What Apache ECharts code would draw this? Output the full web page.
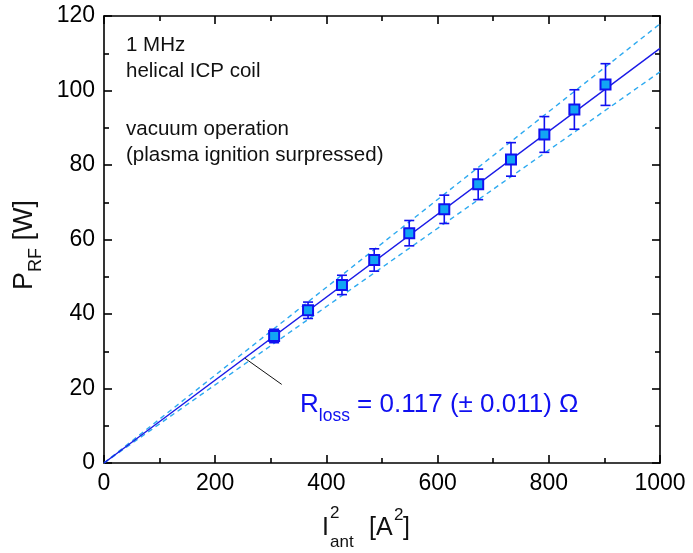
<!DOCTYPE html>
<html><head><meta charset="utf-8">
<script src="https://cdn.jsdelivr.net/npm/echarts@6/dist/echarts.min.js"></script>
<style>html,body{margin:0;padding:0;background:#fff}#c{width:693px;height:553px}</style>
</head><body><div id="c"></div>
<script>
// Data
const xVals = [306, 367, 428, 486, 549, 612, 673, 732, 792, 846, 902];
const yVals = [34.1, 41.0, 47.8, 54.5, 61.7, 68.1, 74.8, 81.5, 88.2, 94.9, 101.6];
const yErr  = [1.8, 2.2, 2.6, 3.0, 3.4, 3.8, 4.1, 4.5, 4.8, 5.3, 5.6];
const fitX = [0, 1000];
const fitY = [0, 111.3];
const upperY = [0, 117.9];
const lowerY = [0, 105.0];
const pointerX = [253.6, 319.6];
const pointerY = [28.1, 21.1];
const xTicks = [0, 200, 400, 600, 800, 1000];
const yTicks = [0, 20, 40, 60, 80, 100, 120];

const FONT = '"Liberation Sans", Arial, sans-serif';
const BLUE = '#1010f0';
const chart = echarts.init(document.getElementById('c'));
const pts = xVals.map((x, i) => [x, yVals[i], yErr[i]]);
const pair = (xs, ys) => xs.map((x, i) => [x, ys[i]]);

const axisCommon = {
  axisLine: {show: true, onZero: false, lineStyle: {color: '#000', width: 1.6}},
  axisTick: {show: true, inside: true, length: 8, lineStyle: {color: '#000', width: 1.6}},
  minorTick: {show: true, splitNumber: 2, length: 5, lineStyle: {color: '#000', width: 1.6}},
  splitLine: {show: false}
};
const fmt = v => String(v);

chart.setOption({
  animation: false,
  grid: {left: 104, right: 33, top: 16, bottom: 90, containLabel: false},
  xAxis: [
    Object.assign({type: 'value', min: xTicks[0], max: xTicks[xTicks.length-1], interval: 200, position: 'bottom',
      axisLabel: {color: '#000', fontSize: 23, fontFamily: FONT, margin: 9, formatter: fmt}}, axisCommon),
    Object.assign({type: 'value', min: xTicks[0], max: xTicks[xTicks.length-1], interval: 200, position: 'top',
      axisLabel: {show: false}}, axisCommon)
  ],
  yAxis: [
    Object.assign({type: 'value', min: yTicks[0], max: yTicks[yTicks.length-1], interval: 20, position: 'left',
      axisLabel: {color: '#000', fontSize: 23, fontFamily: FONT, margin: 9, formatter: fmt}}, axisCommon),
    Object.assign({type: 'value', min: yTicks[0], max: yTicks[yTicks.length-1], interval: 20, position: 'right',
      axisLabel: {show: false}}, axisCommon)
  ],
  series: [
    {type: 'line', data: pair(fitX, upperY), showSymbol: false, symbol: 'none',
      lineStyle: {color: '#2eaaf0', width: 1.4, type: [5, 4]}},
    {type: 'line', data: pair(fitX, lowerY), showSymbol: false, symbol: 'none',
      lineStyle: {color: '#2eaaf0', width: 1.4, type: [5, 4]}},
    {type: 'line', data: pair(fitX, fitY), showSymbol: false, symbol: 'none',
      lineStyle: {color: '#1a1ae6', width: 1.4}},
    {type: 'line', data: pair(pointerX, pointerY), showSymbol: false, symbol: 'none',
      lineStyle: {color: '#111', width: 1}},
    {type: 'custom', data: pts, z: 5,
      renderItem: function (params, api) {
        const x = api.value(0), y = api.value(1), e = api.value(2);
        const t = api.coord([x, y + e]), b = api.coord([x, y - e]);
        const cw = 5;
        const st = {stroke: BLUE, lineWidth: 1.6};
        return {type: 'group', children: [
          {type: 'line', shape: {x1: t[0], y1: t[1], x2: b[0], y2: b[1]}, style: st},
          {type: 'line', shape: {x1: t[0]-cw, y1: t[1], x2: t[0]+cw, y2: t[1]}, style: st},
          {type: 'line', shape: {x1: b[0]-cw, y1: b[1], x2: b[0]+cw, y2: b[1]}, style: st}
        ]};
      }},
    {type: 'scatter', data: pts.map(p => [p[0], p[1]]), symbol: 'rect', symbolSize: 10, z: 6,
      itemStyle: {color: '#12a4f4', borderColor: BLUE, borderWidth: 2, opacity: 1}}
  ],
  graphic: [
    {type: 'text', left: 126, top: 35, style: {text: '1 MHz', fontSize: 20.5, fontFamily: FONT, fill: '#111'}},
    {type: 'text', left: 126, top: 61, style: {text: 'helical ICP coil', fontSize: 20.5, fontFamily: FONT, fill: '#111'}},
    {type: 'text', left: 126, top: 119, style: {text: 'vacuum operation', fontSize: 20.5, fontFamily: FONT, fill: '#111'}},
    {type: 'text', left: 126, top: 145, style: {text: '(plasma ignition surpressed)', fontSize: 20.5, fontFamily: FONT, fill: '#111'}},
    {type: 'text', left: 300, top: 392, style: {
      text: '{r|R}{s|loss}{r| = 0.117 (± 0.011) Ω}', fill: BLUE,
      rich: {
        r: {fontSize: 26, fontFamily: FONT, fill: BLUE, lineHeight: 30, verticalAlign: 'bottom'},
        s: {fontSize: 17.5, fontFamily: FONT, fill: BLUE, lineHeight: 30, verticalAlign: 'bottom', padding: [0, 0, -7, 0]}
      }}},
    // x axis title
    {type: 'text', x: 322, y: 541, style: {text: 'I', fontSize: 25, fontFamily: FONT, fill: '#111', verticalAlign: 'bottom', align: 'left'}},
    {type: 'text', x: 330, y: 522, style: {text: '2', fontSize: 17, fontFamily: FONT, fill: '#111', verticalAlign: 'bottom', align: 'left'}},
    {type: 'text', x: 330, y: 551, style: {text: 'ant', fontSize: 17, fontFamily: FONT, fill: '#111', verticalAlign: 'bottom', align: 'left'}},
    {type: 'text', x: 362, y: 541, style: {text: ' [A', fontSize: 25, fontFamily: FONT, fill: '#111', verticalAlign: 'bottom', align: 'left'}},
    {type: 'text', x: 394, y: 524, style: {text: '2', fontSize: 17, fontFamily: FONT, fill: '#111', verticalAlign: 'bottom', align: 'left'}},
    {type: 'text', x: 403, y: 541, style: {text: ']', fontSize: 25, fontFamily: FONT, fill: '#111', verticalAlign: 'bottom', align: 'left'}},
    // y axis title
    {type: 'text', x: 38, y: 290, rotation: Math.PI / 2, style: {
      text: '{p|P}{s|RF}{p| [W]}', align: 'left', verticalAlign: 'bottom',
      rich: {
        p: {fontSize: 27, fontFamily: FONT, fill: '#111', lineHeight: 30, verticalAlign: 'bottom'},
        s: {fontSize: 18, fontFamily: FONT, fill: '#111', lineHeight: 30, verticalAlign: 'bottom', padding: [0, 0, -7, 0]}
      }}}
  ]
});
</script></body></html>
